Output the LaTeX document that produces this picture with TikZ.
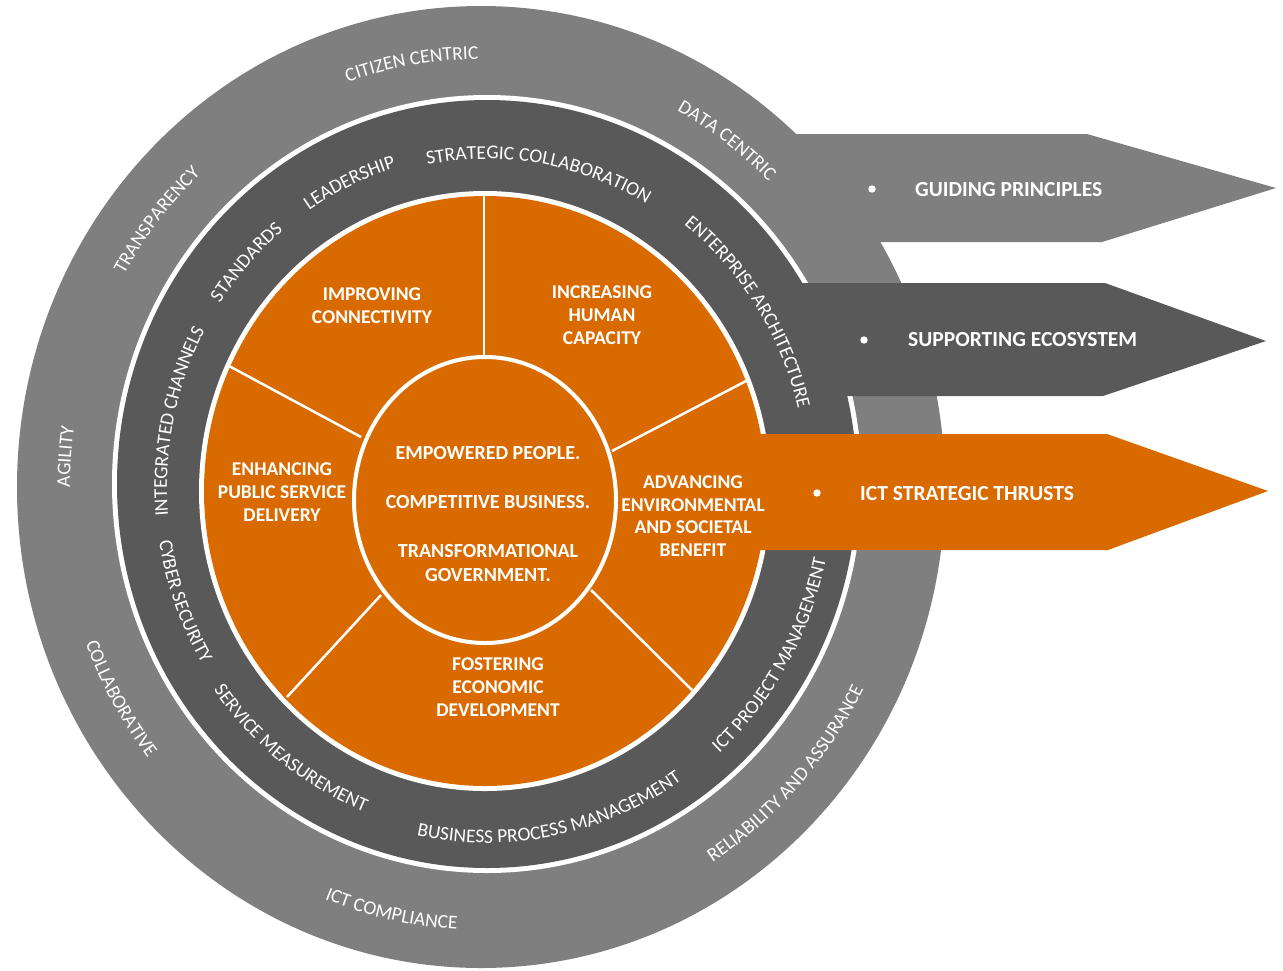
\documentclass[tikz,border=0pt]{standalone}
\usepackage{fontspec}
\setmainfont{Carlito}
\usetikzlibrary{decorations.text}
\definecolor{principlegrey}{HTML}{7F7F7F}
\definecolor{ecosystemgrey}{HTML}{595959}
\definecolor{thrustorange}{HTML}{D96A00}
\newcommand\ringtextfont{\fontsize{19.5}{23}\selectfont}
\newcommand\sectorfont{\bfseries\fontsize{19.5}{22.7}\selectfont}

\tikzset{
  ring label/.style={decorate, decoration={text along path, text align=center, text color=white, text={|\ringtextfont|#1}}},
  sector/.style={text=white, align=center, font=\sectorfont, inner sep=0pt},
  banner/.style={text=white, anchor=west, font=\bfseries\fontsize{21.5}{25}\selectfont, inner sep=0pt},
  spoke/.style={draw=white, line width=2.5pt},
}

\begin{document}
\begin{tikzpicture}[x=1pt, y=-1pt]
        \useasboundingbox (0,0) rectangle (1283,970);
        \coordinate (co) at (481,487);
        \coordinate (cd) at (487,484);
        \coordinate (cl) at (487,487);
        \coordinate (cor) at (485,491);
        \coordinate (ci) at (485,500);
        % guiding principles ring and arrow
        \fill[principlegrey] (co) ellipse [x radius=464pt, y radius=481pt];
        \fill[principlegrey] (760,134) -- (1087,134) -- (1276,188) -- (1102,242) -- (760,242) -- cycle;
        % supporting ecosystem ring and arrow
        \fill[white] (cd) ellipse [x radius=375pt, y radius=389pt];
        \fill[ecosystemgrey] (cd) ellipse [x radius=370pt, y radius=384pt];
        \fill[ecosystemgrey] (785,283) -- (1105,283) -- (1266,341) -- (1103,396) -- (785,396) -- cycle;
        % strategic thrusts disc
        \fill[white] (cor) ellipse [x radius=286pt, y radius=300pt];
        \fill[thrustorange] (cor) ellipse [x radius=281pt, y radius=295pt];
        \draw[spoke] (484,196) -- (484,356);
        \draw[spoke] (229,366) -- (361,437);
        \draw[spoke] (748,380) -- (612,451);
        \draw[spoke] (287,697) -- (381,595);
        \draw[spoke] (692,690) -- (591,590);
        \filldraw[fill=thrustorange, draw=white, line width=4pt] (ci) ellipse [x radius=131pt, y radius=143pt];
        \fill[thrustorange] (755,434) -- (1107,434) -- (1268,491) -- (1108,550) -- (755,550) -- cycle;
        % outer ring labels
        \path[ring label={CITIZEN CENTRIC}] ([shift={(139.5:411pt and 428pt)}]co) arc[start angle=139.5, end angle=59.5, x radius=411pt, y radius=428pt];
        \path[ring label={DATA CENTRIC}] ([shift={(94:411pt and 428pt)}]co) arc[start angle=94, end angle=14, x radius=411pt, y radius=428pt];
        \path[ring label={TRANSPARENCY}] ([shift={(181.2:411pt and 428pt)}]co) arc[start angle=181.2, end angle=101.2, x radius=411pt, y radius=428pt];
        \path[ring label={AGILITY}] ([shift={(215.9:411pt and 428pt)}]co) arc[start angle=215.9, end angle=135.9, x radius=411pt, y radius=428pt];
        \path[ring label={COLLABORATIVE}] ([shift={(169.8:423pt and 440pt)}]co) arc[start angle=169.8, end angle=249.8, x radius=423pt, y radius=440pt];
        \path[ring label={ICT COMPLIANCE}] ([shift={(217.8:426pt and 443pt)}]co) arc[start angle=217.8, end angle=297.8, x radius=426pt, y radius=443pt];
        \path[ring label={RELIABILITY AND ASSURANCE}] ([shift={(277.5:429pt and 446pt)}]co) arc[start angle=277.5, end angle=357.5, x radius=429pt, y radius=446pt];
        % inner ring labels
        \path[ring label={STRATEGIC COLLABORATION}] ([shift={(120.4:315pt and 328pt)}]cl) arc[start angle=120.4, end angle=40.4, x radius=315pt, y radius=328pt];
        \path[ring label={LEADERSHIP}] ([shift={(154.8:320pt and 333pt)}]cl) arc[start angle=154.8, end angle=74.8, x radius=320pt, y radius=333pt];
        \path[ring label={STANDARDS}] ([shift={(177.6:320pt and 333pt)}]cl) arc[start angle=177.6, end angle=97.6, x radius=320pt, y radius=333pt];
        \path[ring label={INTEGRATED CHANNELS}] ([shift={(208.3:320pt and 333pt)}]cl) arc[start angle=208.3, end angle=128.3, x radius=320pt, y radius=333pt];
        \path[ring label={ENTERPRISE ARCHITECTURE}] ([shift={(73.1:320pt and 333pt)}]cl) arc[start angle=73.1, end angle=-6.9, x radius=320pt, y radius=333pt];
        \path[ring label={CYBER SECURITY}] ([shift={(160.2:332pt and 345pt)}]cl) arc[start angle=160.2, end angle=240.2, x radius=332pt, y radius=345pt];
        \path[ring label={SERVICE MEASUREMENT}] ([shift={(192.4:336pt and 349pt)}]cl) arc[start angle=192.4, end angle=272.4, x radius=336pt, y radius=349pt];
        \path[ring label={BUSINESS PROCESS MANAGEMENT}] ([shift={(241.3:343pt and 356pt)}]cl) arc[start angle=241.3, end angle=321.3, x radius=343pt, y radius=356pt];
        \path[ring label={ICT PROJECT MANAGEMENT}] ([shift={(290:346pt and 359pt)}]cl) arc[start angle=290, end angle=370, x radius=346pt, y radius=359pt];
        % thrusts
        \node[sector] (connect) at (372,306) {IMPROVING\\CONNECTIVITY};
        \node[sector] (capacity) at (602,315) {INCREASING\\HUMAN\\CAPACITY};
        \node[sector] (delivery) at (282,492) {ENHANCING\\PUBLIC SERVICE\\DELIVERY};
        \node[sector] (benefit) at (693,516) {ADVANCING\\ENVIRONMENTAL\\AND SOCIETAL\\BENEFIT};
        \node[sector] (economy) at (498,687) {FOSTERING\\ECONOMIC\\DEVELOPMENT};
        \node[sector, font=\bfseries\fontsize{20}{24.5}\selectfont] (vision) at (488,514) {EMPOWERED PEOPLE.\\[24.5pt]COMPETITIVE BUSINESS.\\[24.5pt]TRANSFORMATIONAL\\GOVERNMENT.};
        % legend arrows
        \fill[white] (872,189) circle [radius=3.7pt];
        \fill[white] (864,340) circle [radius=3.7pt];
        \fill[white] (817,493) circle [radius=3.7pt];
        \node[banner] (principles) at (915,189.5) {GUIDING PRINCIPLES};
        \node[banner] (ecosystem) at (908,340) {SUPPORTING ECOSYSTEM};
        \node[banner] (thrusts) at (860,493.5) {ICT STRATEGIC THRUSTS};
\end{tikzpicture}
\end{document}
